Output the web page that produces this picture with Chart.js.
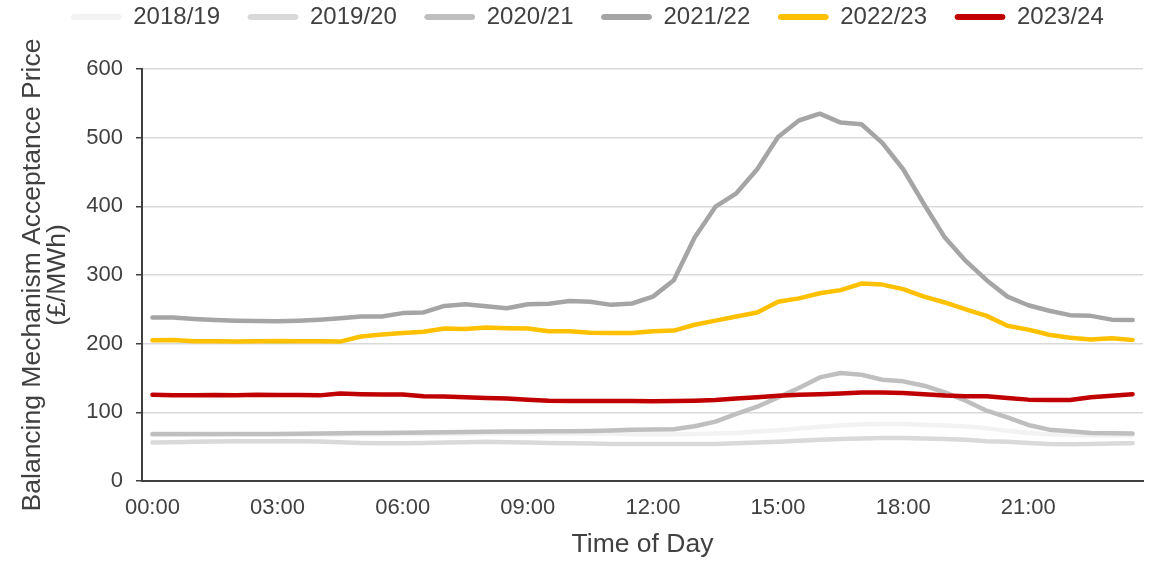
<!DOCTYPE html>
<html>
<head>
<meta charset="utf-8">
<script src="https://cdn.jsdelivr.net/npm/chart.js@4.4.1/dist/chart.umd.min.js"></script>
<style>
  html, body { margin: 0; padding: 0; background: #ffffff; }
  #wrap { width: 1150px; height: 561px; }
</style>
</head>
<body>
<div id="wrap"><canvas id="chart" width="1150" height="561"></canvas></div>
<script>
// Half-hourly settlement periods
const timeLabels = [
  '00:00','00:30','01:00','01:30','02:00','02:30','03:00','03:30','04:00','04:30','05:00','05:30',
  '06:00','06:30','07:00','07:30','08:00','08:30','09:00','09:30','10:00','10:30','11:00','11:30',
  '12:00','12:30','13:00','13:30','14:00','14:30','15:00','15:30','16:00','16:30','17:00','17:30',
  '18:00','18:30','19:00','19:30','20:00','20:30','21:00','21:30','22:00','22:30','23:00','23:30'
];

const seriesNames = ['2018/19', '2019/20', '2020/21', '2021/22', '2022/23', '2023/24'];
const seriesColors = ['#f2f2f2', '#d9d9d9', '#bfbfbf', '#a5a5a5', '#ffc000', '#c00000'];

// Average balancing mechanism acceptance price, £/MWh
const price201819 = [
  67, 67, 67.5, 67.5, 68, 68, 68, 68, 68, 68, 68, 68,
  68.5, 68.5, 68.5, 69, 69, 69, 69, 69, 69, 69, 69, 68,
  68, 68, 68.5, 69, 70, 72, 74, 76.5, 79, 81, 82.5, 83,
  83, 82, 81, 79.5, 77, 73, 70, 68, 67, 66.5, 66.5, 66.5
];
const price201920 = [
  56, 56.5, 57, 57.5, 58, 58, 58, 58, 57.5, 56.5, 55.5, 55,
  55, 55.5, 56, 56.5, 57, 56.5, 56, 55.5, 55, 54.5, 54, 54,
  54, 54, 54, 54, 55, 56, 57, 58.5, 60, 61, 62, 62.5,
  62.5, 62, 61, 60, 58, 57, 55.5, 54, 53.5, 54, 54.5, 55
];
const price202021 = [
  68.5, 68.5, 68.5, 68.5, 68.5, 68.5, 68.5, 68.8, 69, 69.5, 69.8, 70,
  70.3, 70.6, 71, 71.3, 71.6, 72, 72.2, 72.4, 72.5, 72.7, 73.5, 74.5,
  75, 75.5, 79.7, 86.4, 97.6, 108.2, 121.8, 135.4, 150.9, 157.2, 154.7, 147.5,
  145.1, 138.8, 129.1, 117, 102.4, 92.7, 81.6, 74.8, 72.4, 69.9, 69.5, 69
];
const price202122 = [
  238, 238, 236, 234.5, 233.5, 233, 232.5, 233.5, 235, 237, 239.5, 239.5,
  244.5, 245.5, 255, 257.5, 254.5, 251.5, 257.5, 258, 262, 261, 256.5, 258.5,
  268.5, 292.5, 354.5, 399.5, 419, 454, 501, 525, 535, 522, 519.5, 492.5,
  454, 403, 354.5, 320.5, 292.5, 268.5, 256, 248, 241.5, 240.5, 235, 234.5
];
const price202223 = [
  205, 205.5, 203.5, 203.5, 203, 203.5, 204, 203.5, 203.5, 203, 210.5, 213.5,
  215.5, 217.5, 222, 221.5, 223.5, 222.5, 222, 218, 218, 216, 215.5, 215.5,
  218, 219, 227.5, 233.5, 239.5, 245.5, 261, 266, 273.5, 278, 287.5, 286,
  279.5, 268.5, 260, 250, 240.5, 226, 220.5, 213, 208.5, 206, 208, 205.5
];
const price202324 = [
  125.5, 124.7, 124.7, 125.2, 124.7, 125.7, 125.2, 125.2, 124.7, 127.5, 126.5, 126,
  126, 123.5, 123, 122, 121, 120, 118.5, 117, 116.5, 116.5, 116.5, 116.5,
  116, 116.5, 117, 118, 120, 122, 124, 125.5, 126.5, 127.5, 129, 129,
  128, 126.5, 124.5, 123.5, 123.5, 121, 118.5, 118, 118, 122, 124, 126.5
];

const seriesValues = [price201819, price201920, price202021, price202122, price202223, price202324];

// y-axis ticks and the x labels shown every three hours
const yTicks = { min: 0, max: 600, step: 100 };
const xLabelEvery = 6;

const TEXT = '#404040';
Chart.defaults.font.family = "'Liberation Sans', Arial, sans-serif";
Chart.defaults.color = TEXT;

const datasets = seriesNames.map((name, i) => ({
  label: name,
  data: seriesValues[i],
  borderColor: seriesColors[i],
  backgroundColor: seriesColors[i],
  borderWidth: 4.5,
  borderCapStyle: 'round',
  borderJoinStyle: 'round',
  pointRadius: 0,
  pointHoverRadius: 0,
  tension: 0,
  order: seriesNames.length - i   // newer seasons drawn on top
}));

// Fixes the legend band height and nudges it into place
const legendBand = {
  id: 'legendBand',
  beforeInit(chart) {
    const legend = chart.legend;
    const baseFit = legend.fit.bind(legend);
    legend.fit = function () { baseFit(); this.height = 69; };
  },
  afterLayout(chart) {
    const lg = chart.legend;
    const dx = 16, dy = -23;
    lg.left += dx; lg.right += dx; lg.top += dy; lg.bottom += dy;
  }
};

new Chart(document.getElementById('chart'), {
  type: 'line',
  data: { labels: timeLabels, datasets },
  plugins: [legendBand],
  options: {
    responsive: false,
    animation: false,
    devicePixelRatio: 1,
    layout: { padding: { left: 0, right: 7, top: 0, bottom: 0 } },
    plugins: {
      tooltip: { enabled: false },
      legend: {
        position: 'top',
        labels: {
          color: TEXT,
          font: { size: 24 },
          boxWidth: 50,
          boxHeight: 5,
          padding: 28,
          useBorderRadius: true,
          borderRadius: 2.5,
          sort: (a, b) => a.datasetIndex - b.datasetIndex,
          generateLabels(chart) {
            return Chart.defaults.plugins.legend.labels.generateLabels(chart)
              .map(item => Object.assign(item, { fillStyle: item.strokeStyle, lineWidth: 1 }));
          }
        }
      }
    },
    scales: {
      x: {
        offset: true,
        grid: { display: false, drawTicks: false },
        border: { display: true, color: TEXT, width: 2 },
        ticks: {
          autoSkip: false,
          maxRotation: 0,
          padding: 14,
          color: TEXT,
          font: { size: 22 },
          callback(value, index) {
            return index % xLabelEvery === 0 ? timeLabels[index] : '';
          }
        },
        title: {
          display: true,
          text: 'Time of Day',
          color: TEXT,
          font: { size: 26.5, lineHeight: 1 },
          padding: { top: 0, bottom: 3 }
        },
        afterFit(scale) { scale.height = 80; }
      },
      y: {
        min: yTicks.min,
        max: yTicks.max,
        grid: { color: '#d9d9d9', lineWidth: 1.5, tickColor: TEXT, tickLength: 6, drawTicks: true },
        border: { display: true, color: TEXT, width: 2 },
        ticks: { stepSize: yTicks.step, padding: 13, color: TEXT, font: { size: 22 } },
        title: {
          display: true,
          text: ['Balancing Mechanism Acceptance Price', '(£/MWh)'],
          color: TEXT,
          font: { size: 26.5, lineHeight: 0.95 },
          padding: { top: 20, bottom: 0 }
        },
        afterFit(scale) { scale.width = 142; }
      }
    }
  }
});
</script>
</body>
</html>
